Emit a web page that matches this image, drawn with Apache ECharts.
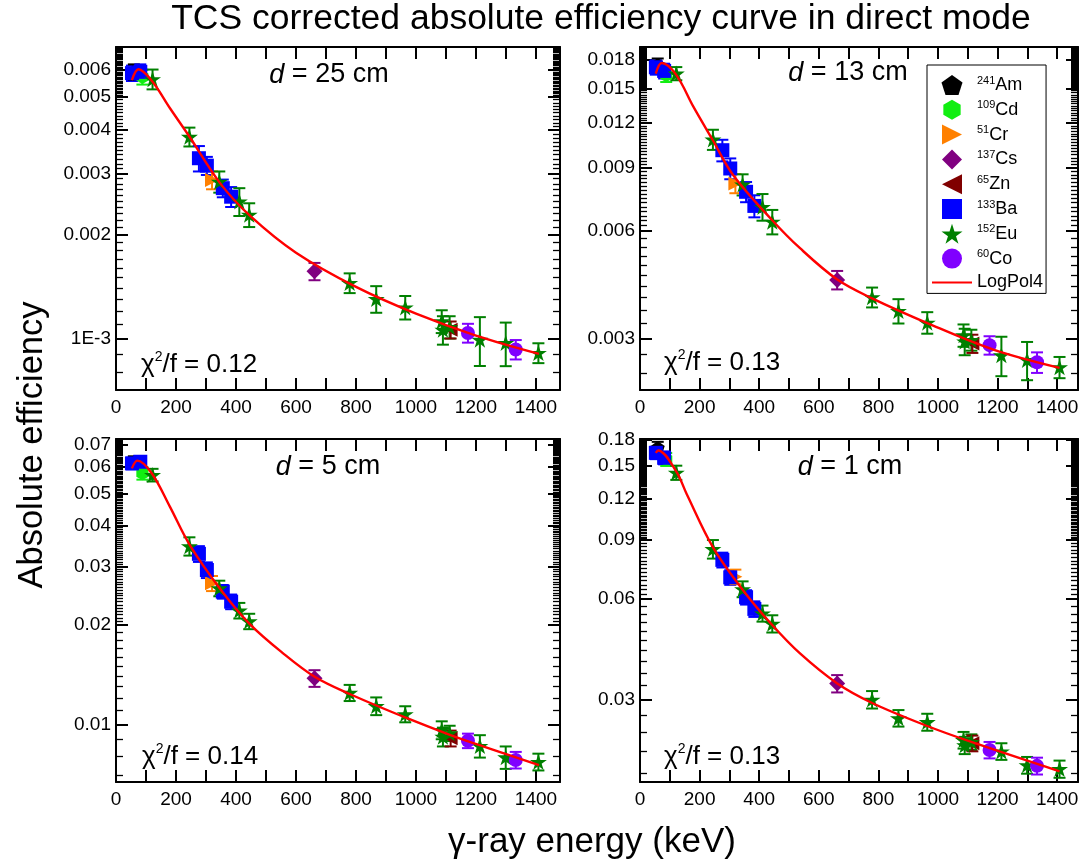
<!DOCTYPE html>
<html><head><meta charset="utf-8">
<script src="https://cdn.jsdelivr.net/npm/echarts@6/dist/echarts.min.js"></script>
<style>html,body{margin:0;padding:0;background:#fff}#c{width:1089px;height:861px}</style>
</head><body><div id="c"></div>
<script>
// ---------------- DATA ----------------
const sourceNames = ['241Am','109Cd','51Cr','137Cs','65Zn','133Ba','152Eu','60Co'];
// source index of every measured point (0 Am,1 Cd,2 Cr,3 Cs,4 Zn,5 Ba,6 Eu,7 Co)
const pointSource = [5,0,5,1,6,6,5,5,2,6,5,5,6,6,3,6,6,6,6,6,6,4,7,6,6,7,6];
const pointEnergy = [53.2,59.5,81.0,88.0,121.8,244.7,276.4,302.9,320.1,344.3,356.0,383.8,411.1,444.0,661.7,778.9,867.4,964.1,1085.8,1089.7,1112.1,1115.5,1173.2,1212.9,1299.1,1332.5,1408.0];

const eff_d25 = [0.00585,0.0059,0.0059,0.0057,0.00562,0.00383,0.00332,0.00316,0.00287,0.00284,0.00272,0.00257,0.00249,0.00228,0.001564,0.001448,0.001302,0.001231,0.001122,0.00106,0.00108,0.00106,0.001038,0.000993,0.000972,0.00093,0.000909];
const err_d25 = [0.0003,0.0003,0.0003,0.00028,0.00037,0.00024,0.00028,0.00019,0.00017,0.0002,0.00016,0.00017,0.00023,0.00018,0.00009,0.000095,0.000115,0.000096,0.000085,0.0001,0.00008,0.00006,0.000065,0.00016,0.00014,0.00006,0.00006];
const eff_d13 = [0.0172,0.0175,0.0168,0.01634,0.01652,0.0108,0.01008,0.00896,0.00814,0.00808,0.00771,0.00704,0.0070,0.00636,0.00437,0.00391,0.00358,0.00332,0.00306,0.00294,0.00297,0.0029,0.00287,0.00269,0.00261,0.00257,0.00249];
const err_d13 = [0.0008,0.0007,0.0008,0.0007,0.0007,0.0007,0.0007,0.0006,0.0005,0.00055,0.0005,0.0005,0.0006,0.0005,0.00026,0.00025,0.00028,0.00023,0.00022,0.00025,0.0002,0.00017,0.00017,0.00034,0.00032,0.00017,0.00017];
const eff_d5 = [0.0616,0.0622,0.0623,0.0575,0.0568,0.0346,0.0328,0.0293,0.0267,0.0258,0.0252,0.0235,0.0221,0.0205,0.01378,0.01246,0.01136,0.01074,0.00961,0.00917,0.0094,0.00907,0.00892,0.0086,0.00795,0.0078,0.0077];
const err_d5 = [0.0025,0.0025,0.0025,0.0025,0.0025,0.0022,0.0018,0.0016,0.0014,0.0014,0.0012,0.0012,0.0012,0.0011,0.0008,0.0007,0.0007,0.0006,0.0006,0.0006,0.0005,0.0005,0.00045,0.00067,0.00062,0.00045,0.00045];
const eff_d1 = [0.1641,0.170,0.1586,0.1569,0.1432,0.0846,0.0785,0.0696,0.0699,0.0642,0.0607,0.0560,0.0543,0.0506,0.0335,0.0300,0.0264,0.0257,0.0227,0.0219,0.0224,0.0222,0.0212,0.0210,0.0191,0.0190,0.0186];
const err_d1 = [0.007,0.007,0.007,0.007,0.007,0.0054,0.004,0.0035,0.0035,0.0035,0.003,0.003,0.003,0.003,0.002,0.0018,0.0015,0.0015,0.0013,0.0013,0.0012,0.0012,0.0012,0.0012,0.0011,0.0011,0.0011];

// LogPol4 fit curves
const fitE_d25 = [53,75,120,180,245,350,450,600,800,1000,1200,1410];
const fitEff_d25 = [0.00558,0.00600,0.00555,0.00463,0.00383,0.00279,0.00225,0.00177,0.00141,0.00118,0.00102,0.000903];
const fitE_d13 = [53,73,121,180,243,313,443,537,662,779,964,1186,1408];
const fitEff_d13 = [0.01652,0.01768,0.0164,0.0133,0.0108,0.00858,0.00643,0.00536,0.00438,0.00388,0.00331,0.00279,0.00248];
const fitE_d5 = [53,71,119,180,245,350,446,557,662,779,966,1115,1226,1410];
const fitEff_d5 = [0.0595,0.0628,0.0575,0.0455,0.0350,0.0255,0.0201,0.0164,0.01393,0.01235,0.01047,0.00928,0.00856,0.00753];
const fitE_d1 = [53,61,121,157,245,347,443,537,662,779,964,1112,1408];
const fitEff_d1 = [0.164,0.1668,0.1447,0.1234,0.0856,0.0635,0.0502,0.0412,0.0335,0.0293,0.0250,0.0224,0.0183];

// tick labels
const xTickLabels = [0,200,400,600,800,1000,1200,1400];
const yMajor_d25 = [0.001,0.002,0.003,0.004,0.005,0.006];
const yLabel_d25 = ['1E-3','0.002','0.003','0.004','0.005','0.006'];
const yMajor_d13 = [0.003,0.006,0.009,0.012,0.015,0.018];
const yLabel_d13 = ['0.003','0.006','0.009','0.012','0.015','0.018'];
const yMajor_d5 = [0.01,0.02,0.03,0.04,0.05,0.06,0.07];
const yLabel_d5 = ['0.01','0.02','0.03','0.04','0.05','0.06','0.07'];
const yMajor_d1 = [0.03,0.06,0.09,0.12,0.15,0.18];
const yLabel_d1 = ['0.03','0.06','0.09','0.12','0.15','0.18'];

// ---------------- STYLE ----------------
const FONT = "'Liberation Sans', Arial, Helvetica, sans-serif";
const sourceColors = ['#000000','#11ee11','#ff8000','#800080','#800000','#0000ff','#008000','#8000ff'];
const P_PENT = 'path://M50,0 L97.6,34.5 L79.4,90.5 L20.6,90.5 L2.4,34.5 Z';
const P_HEX = 'path://M50,0 L93.3,25 L93.3,75 L50,100 L6.7,75 L6.7,25 Z';
const P_TRR = 'path://M0,0 L100,50 L0,100 Z';
const P_DIA = 'path://M50,0 L100,50 L50,100 L0,50 Z';
const P_TRL = 'path://M100,0 L0,50 L100,100 Z';
const P_SQ = 'path://M0,0 L100,0 L100,100 L0,100 Z';
const P_STAR = 'path://M50,0 L61.23,34.55 L97.55,34.55 L68.17,55.9 L79.39,90.45 L50,69.1 L20.61,90.45 L31.83,55.9 L2.45,34.55 L38.77,34.55 Z';
const P_LINE = 'path://M0,0 L100,0 L100,5 L0,5 Z';
const sourceSymbols = [P_PENT,P_HEX,P_TRR,P_DIA,P_TRL,P_SQ,P_STAR,'circle'];
const sourceSizes = [14,14,14,16,14,14,17,14];

function makeMinor(ranges, majors) {
  const out = [];
  ranges.forEach(([a, b, step]) => {
    const n = Math.round((b - a) / step);
    for (let k = 0; k <= n; k++) {
      const v = +(a + k * step).toPrecision(10);
      if (!majors.some(m => Math.abs(m - v) / m < 1e-6) && !out.some(o => Math.abs(o - v) / v < 1e-6)) out.push(v);
    }
  });
  return out;
}

const panels = [
  {eff: eff_d25, err: err_d25, fitE: fitE_d25, fitV: fitEff_d25, major: yMajor_d25, labels: yLabel_d25,
   yMin: 0.00071, yMax: 0.00696, xMax: 1480, grid: {left: 116, top: 47, width: 444, height: 343},
   minor: [[0.0008, 0.005, 0.0001], [0.005, 0.0069, 0.00005]], d: '25', chi: '0.12', dPos: [329, 75], chiPos: [141, 365]},
  {eff: eff_d13, err: err_d13, fitE: fitE_d13, fitV: fitEff_d13, major: yMajor_d13, labels: yLabel_d13,
   yMin: 0.00215, yMax: 0.0196, xMax: 1470, grid: {left: 640, top: 47, width: 438, height: 343},
   minor: [[0.0021, 0.006, 0.0003], [0.006, 0.015, 0.0002], [0.015, 0.0195, 0.0001]], d: '13', chi: '0.13', dPos: [848, 73], chiPos: [664, 363]},
  {eff: eff_d5, err: err_d5, fitE: fitE_d5, fitV: fitEff_d5, major: yMajor_d5, labels: yLabel_d5,
   yMin: 0.00669, yMax: 0.073, xMax: 1480, grid: {left: 116, top: 439, width: 444, height: 343},
   minor: [[0.007, 0.02, 0.001], [0.02, 0.0725, 0.0005]], d: '5', chi: '0.14', dPos: [328, 467], chiPos: [142, 757]},
  {eff: eff_d1, err: err_d1, fitE: fitE_d1, fitV: fitEff_d1, major: yMajor_d1, labels: yLabel_d1,
   yMin: 0.0170, yMax: 0.1805, xMax: 1470, grid: {left: 640, top: 439, width: 438, height: 343},
   minor: [[0.018, 0.06, 0.003], [0.06, 0.09, 0.002], [0.09, 0.18, 0.001]], d: '1', chi: '0.13', dPos: [850, 467], chiPos: [664, 757]}
];

function renderErr(params, api) {
  const x = api.value(0), v = api.value(1), e = api.value(2), s = api.value(3);
  const t = api.coord([x, v + e]), b = api.coord([x, v - e]);
  const hw = 6;
  const style = {stroke: sourceColors[s], lineWidth: 2, fill: null};
  return {type: 'group', children: [
    {type: 'line', shape: {x1: t[0], y1: t[1], x2: b[0], y2: b[1]}, style},
    {type: 'line', shape: {x1: t[0] - hw, y1: t[1], x2: t[0] + hw, y2: t[1]}, style},
    {type: 'line', shape: {x1: b[0] - hw, y1: b[1], x2: b[0] + hw, y2: b[1]}, style}
  ]};
}

const grids = [], xAxes = [], yAxes = [], series = [], graphics = [];
const N = panels.length;
panels.forEach((p, i) => {
  // main grid i, overlay grid N+i (same rectangle) carrying the minor y ticks
  grids[i] = Object.assign({outerBoundsMode: 'none', containLabel: false}, p.grid);
  grids[N + i] = Object.assign({outerBoundsMode: 'none', containLabel: false}, p.grid);
});
panels.forEach((p, i) => {
  const axLine = {show: true, onZero: false, lineStyle: {color: '#000', width: 2}};
  const xBase = {type: 'value', gridIndex: i, min: 0, max: p.xMax, interval: 100, splitLine: {show: false},
    axisLine: axLine, axisTick: {show: true, inside: true, length: 12, lineStyle: {color: '#000', width: 2}}};
  xAxes.push(Object.assign({}, xBase, {position: 'bottom',
    axisLabel: {show: true, fontSize: 19, fontFamily: FONT, color: '#000', margin: 8,
      formatter: v => xTickLabels.indexOf(v) >= 0 ? String(v) : ''}}));
  xAxes.push(Object.assign({}, xBase, {position: 'top', axisLabel: {show: false}}));
  const yBase = {type: 'log', logBase: 10, min: p.yMin, max: p.yMax, splitLine: {show: false}, minorTick: {show: false}, offset: 0};
  const fmt = v => { for (let k = 0; k < p.major.length; k++) if (Math.abs(p.major[k] - v) / p.major[k] < 1e-6) return p.labels[k]; return ''; };
  ['left', 'right'].forEach(pos => {
    yAxes.push(Object.assign({}, yBase, {gridIndex: i, position: pos, axisLine: axLine,
      axisTick: {show: true, inside: true, length: 12, customValues: p.major, lineStyle: {color: '#000', width: 2}},
      axisLabel: pos === 'left' ? {show: true, customValues: p.major, formatter: fmt, fontSize: 19, fontFamily: FONT, color: '#000', margin: 5} : {show: false}}));
  });
  const xi = 2 * i, yi = 2 * i;
  series.push({type: 'custom', name: 'errors' + i, xAxisIndex: xi, yAxisIndex: yi, z: 2, silent: true,
    renderItem: renderErr, encode: {x: 0, y: 1},
    data: pointEnergy.map((E, k) => [E, p.eff[k], p.err[k], pointSource[k]])});
  sourceNames.forEach((name, s) => {
    series.push({type: 'scatter', name, xAxisIndex: xi, yAxisIndex: yi, z: 3,
      symbol: sourceSymbols[s], symbolSize: sourceSizes[s], symbolKeepAspect: true,
      itemStyle: {color: sourceColors[s], opacity: 1},
      data: pointEnergy.map((E, k) => [E, p.eff[k], k]).filter(r => pointSource[r[2]] === s).map(r => [r[0], r[1]])});
  });
  series.push({type: 'line', name: 'LogPol4', xAxisIndex: xi, yAxisIndex: yi, z: 4,
    symbol: 'none', showSymbol: false, smooth: 0.35, lineStyle: {color: '#ff0000', width: 2.4}, itemStyle: {color: '#ff0000'},
    data: p.fitE.map((E, k) => [E, p.fitV[k]])});

  graphics.push({type: 'text', x: p.dPos[0], y: p.dPos[1], z: 10,
    style: {text: '{i|d}{n| = ' + p.d + ' cm}', align: 'center', verticalAlign: 'middle', fill: '#000',
      rich: {i: {fontSize: 27, fontStyle: 'italic', fontFamily: FONT, fill: '#000'}, n: {fontSize: 27, fontFamily: FONT, fill: '#000'}}}});
  graphics.push({type: 'text', x: p.chiPos[0], y: p.chiPos[1], z: 10,
    style: {text: '{c|\u03c7}{s|2}{c|/f = ' + p.chi + '}', align: 'left', verticalAlign: 'middle', fill: '#000',
      rich: {c: {fontSize: 26, fontFamily: FONT, fill: '#000', lineHeight: 32},
             s: {fontSize: 14, fontFamily: FONT, fill: '#000', padding: [0, 0, 16, 0]}}}});
});
// overlay grids: hidden x axes + minor-tick y axes
panels.forEach((p, i) => {
  const g = N + i;
  xAxes.push({type: 'value', gridIndex: g, min: 0, max: p.xMax, show: false});
  const minorVals = makeMinor(p.minor, p.major);
  ['left', 'right'].forEach(pos => {
    yAxes.push({type: 'log', logBase: 10, gridIndex: g, min: p.yMin, max: p.yMax, position: pos, offset: 0,
      splitLine: {show: false}, minorTick: {show: false}, axisLine: {show: false, onZero: false},
      axisTick: {show: true, inside: true, length: 7, customValues: minorVals, lineStyle: {color: '#000', width: 1.3}},
      axisLabel: {show: false}});
  });
});

graphics.push({type: 'text', x: 601, y: 19, style: {text: 'TCS corrected absolute efficiency curve in direct mode',
  align: 'center', verticalAlign: 'middle', fontSize: 35.5, fontFamily: FONT, fill: '#000'}});
graphics.push({type: 'text', x: 32, y: 445, rotation: Math.PI / 2, style: {text: 'Absolute efficiency',
  align: 'center', verticalAlign: 'middle', fontSize: 34.5, fontFamily: FONT, fill: '#000'}});
graphics.push({type: 'text', x: 592, y: 842, style: {text: '\u03b3-ray energy (keV)',
  align: 'center', verticalAlign: 'middle', fontSize: 35, fontFamily: FONT, fill: '#000'}});

const legendData = sourceNames.map((n, s) => ({name: n, icon: sourceSymbols[s], itemStyle: {color: sourceColors[s]}}));
legendData.push({name: 'LogPol4', icon: P_LINE, itemStyle: {color: '#ff0000'}});

const option = {
  animation: false,
  backgroundColor: '#fff',
  grid: grids, xAxis: xAxes, yAxis: yAxes, series,
  legend: {orient: 'vertical', left: 927, top: 65, padding: [10, 3, 2, 5], itemWidth: 40, itemHeight: 20, itemGap: 4.8,
    borderColor: '#000', borderWidth: 1, backgroundColor: '#fff', selectedMode: false, symbolKeepAspect: true, z: 20,
    data: legendData,
    formatter: n => { if (n === 'LogPol4') return '{el|LogPol4}'; const m = n.match(/^(\d+)(\D+)$/); return '{sup|' + m[1] + '}{el|' + m[2] + '}'; },
    textStyle: {fontFamily: FONT, color: '#000', rich: {sup: {fontSize: 11, fontFamily: FONT, color: '#000', padding: [0, 0, 9, 0]}, el: {fontSize: 18, fontFamily: FONT, color: '#000'}}}},
  graphic: graphics
};
echarts.init(document.getElementById('c')).setOption(option);
</script></body></html>
